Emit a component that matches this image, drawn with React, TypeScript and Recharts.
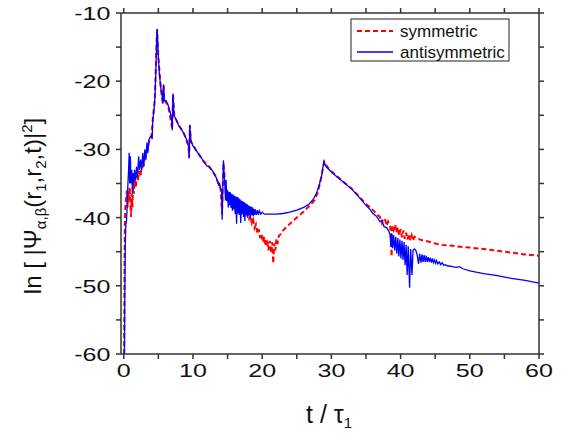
import React from 'react';
import { LineChart, Line, XAxis, YAxis } from 'recharts';

// [t / tau_1, ln|Psi|^2] pairs
const symmetric: [number, number][] = [
  [0.05, -60], [0.08, -52], [0.12, -45], [0.18, -40], [0.25, -38], [0.35, -37], [0.45, -36], [0.55, -38.5],
  [0.65, -36], [0.75, -37.5], [0.85, -35.5], [0.95, -37.8], [1.05, -39.9], [1.15, -36.5], [1.25, -38.5], [1.35, -35],
  [1.45, -36.5], [1.6, -34.5], [1.75, -35.5], [1.9, -33.8], [2.05, -34.5], [2.2, -33.2], [2.4, -34], [2.6, -32.5],
  [2.8, -32.5], [3.0, -31.5], [3.3, -30.5], [3.6, -29], [4.0, -28.2], [4.2, -25.5], [4.5, -22.5], [4.75, -14],
  [4.82, -12.5], [5.0, -16.5], [5.35, -21], [5.65, -23.3], [5.75, -20.6], [5.85, -22.8], [6.4, -23.5], [7.0, -27],
  [7.12, -22], [7.3, -25], [7.9, -26.4], [8.7, -27.7], [9.35, -29.5], [9.45, -31.2], [9.55, -26.5], [9.7, -28.8],
  [10.5, -30.2], [11.5, -31.7], [12.4, -32.6], [13.2, -33.8], [14.0, -35.8], [14.2, -39.5], [14.4, -32], [14.7, -35.5],
  [15.2, -37], [16.0, -37.5], [16.5, -38], [17.0, -38.3], [17.5, -38.8], [17.8, -39.6], [18.1, -40.2], [18.3, -39.6],
  [18.5, -40.8], [18.7, -40.3], [18.9, -41.5], [19.1, -41], [19.3, -42.3], [19.5, -41.7], [19.7, -43], [19.9, -42.4],
  [20.1, -43.6], [20.3, -42.8], [20.5, -44.2], [20.7, -43.2], [20.9, -44.8], [21.1, -43.4], [21.3, -45.2], [21.45, -43.6],
  [21.6, -46.7], [21.75, -43.8], [21.9, -44.8], [22.05, -43.2], [22.2, -43.9], [22.4, -42.7], [22.7, -42.4], [23.0, -41.9],
  [24.0, -40.9], [25.0, -40], [26.0, -39.1], [27.0, -38.1], [27.6, -37.4], [28.0, -36.4], [28.4, -34.8], [28.7, -33.2],
  [28.95, -31.8], [29.5, -32.7], [30.0, -33.2], [31.0, -34.1], [32.0, -35], [33.0, -35.8], [34.0, -36.9], [35.0, -38],
  [35.5, -38.4], [36.0, -38.9], [36.5, -39.4], [37.0, -39.9], [37.3, -40.8], [37.5, -40.1], [37.8, -40.4], [38.0, -41.2],
  [38.2, -40.6], [38.5, -41.3], [38.7, -45.7], [38.8, -41.2], [39.0, -41.8], [39.2, -41], [39.4, -42.2], [39.6, -41.4],
  [39.8, -42.6], [40.0, -41.7], [40.2, -42.9], [40.4, -41.9], [40.6, -43.1], [40.8, -42.2], [41.0, -43.2], [41.2, -42.4],
  [41.4, -43.3], [41.6, -42.6], [41.8, -43.4], [42.0, -42.8], [42.5, -43.1], [43.0, -43.3], [44.0, -43.5], [45.0, -43.8],
  [46.0, -44], [48.0, -44.2], [50.0, -44.4], [52.0, -44.6], [55.0, -45], [58.0, -45.4], [60.0, -45.6],
];

const antisymmetric: [number, number][] = [
  [0.1, -60], [0.15, -52], [0.22, -44], [0.3, -41], [0.4, -40.5], [0.5, -38], [0.6, -35], [0.7, -33],
  [0.78, -30.5], [0.85, -35], [0.95, -31], [1.05, -35], [1.15, -33], [1.25, -36.5], [1.35, -33.5], [1.45, -35],
  [1.55, -33], [1.7, -34.5], [1.85, -32.5], [2.0, -34], [2.15, -31], [2.3, -33], [2.45, -31.5], [2.6, -33],
  [2.75, -30.5], [2.9, -32.5], [3.05, -30], [3.2, -31.5], [3.35, -29], [3.5, -30.5], [3.65, -28.5], [3.8, -28.2],
  [4.0, -28], [4.1, -28.5], [4.2, -25.5], [4.35, -24.5], [4.5, -22.5], [4.62, -19], [4.75, -14], [4.82, -12.3],
  [4.9, -14], [5.0, -16.5], [5.15, -19], [5.35, -21], [5.55, -22.2], [5.65, -23.3], [5.75, -20.5], [5.85, -22.8],
  [6.1, -22.8], [6.4, -23.5], [6.7, -24.5], [6.9, -25.5], [7.0, -27.2], [7.12, -21.8], [7.25, -25], [7.5, -25.5],
  [7.9, -26.4], [8.3, -27], [8.7, -27.7], [9.1, -28.6], [9.35, -29.5], [9.45, -31.3], [9.55, -26.4], [9.7, -28.8],
  [10.0, -29.5], [10.5, -30.2], [11.0, -30.9], [11.5, -31.7], [12.0, -32.4], [12.4, -32.6], [12.8, -33.1], [13.2, -33.8],
  [13.5, -34.5], [13.7, -35.2], [13.85, -35], [14.0, -35.8], [14.15, -36.5], [14.22, -40.3], [14.3, -36], [14.4, -31.6],
  [14.5, -33.5], [14.6, -35], [14.7, -37.5], [14.78, -34.5], [14.9, -37.6], [15.0, -36], [15.1, -38.5], [15.2, -36.2],
  [15.3, -38.2], [15.4, -36.3], [15.5, -38.6], [15.6, -36.5], [15.7, -39], [15.8, -36.6], [15.9, -38.8], [16.0, -36.8],
  [16.1, -39.5], [16.2, -36.9], [16.3, -40.9], [16.4, -37], [16.5, -39.4], [16.6, -37.1], [16.7, -39.6], [16.8, -37.3],
  [16.9, -40.8], [17.0, -37.5], [17.1, -39.5], [17.2, -37.6], [17.3, -39.9], [17.4, -37.7], [17.5, -40.5], [17.6, -37.9],
  [17.7, -39.6], [17.8, -38], [17.9, -40], [18.0, -38.2], [18.1, -39.7], [18.2, -38.3], [18.3, -40.1], [18.4, -38.4],
  [18.5, -39.6], [18.6, -38.5], [18.7, -39.8], [18.8, -38.7], [18.9, -39.6], [19.0, -38.8], [19.15, -39.6], [19.3, -38.9],
  [19.45, -39.6], [19.6, -39], [19.8, -39.5], [20.0, -39.2], [20.3, -39.5], [21.0, -39.5], [22.0, -39.5], [23.0, -39.4],
  [24.0, -39.2], [25.0, -38.9], [26.0, -38.5], [26.8, -38], [27.4, -37.3], [27.9, -36.3], [28.3, -35], [28.6, -33.8],
  [28.8, -32.5], [28.95, -31.8], [29.2, -32.5], [29.5, -32.8], [30.0, -33.3], [31.0, -34.2], [32.0, -35], [33.0, -35.9],
  [34.0, -37], [35.0, -38.2], [35.5, -38.7], [36.0, -39.4], [36.5, -39.8], [37.0, -40.6], [37.3, -40.4], [37.6, -41.3],
  [38.0, -41.5], [38.3, -42], [38.5, -42.5], [38.6, -44.3], [38.7, -42.3], [38.85, -44.5], [39.0, -42.6], [39.15, -44.8],
  [39.3, -42.8], [39.45, -45.3], [39.6, -43], [39.75, -45.7], [39.9, -43.2], [40.05, -46], [40.2, -43.4], [40.35, -46.2],
  [40.5, -43.6], [40.65, -47], [40.8, -44], [40.95, -48.4], [41.1, -44.2], [41.3, -50.3], [41.45, -44.6], [41.65, -48.4],
  [41.8, -44.8], [42.0, -44.6], [42.2, -44.8], [42.4, -45.5], [42.6, -46.8], [42.75, -45.3], [42.95, -46.6], [43.1, -45.4],
  [43.25, -46.5], [43.4, -45.5], [43.55, -46.5], [43.7, -45.6], [43.85, -46.5], [44.0, -45.8], [44.15, -46.5], [44.3, -45.9],
  [44.45, -46.6], [44.6, -46], [44.75, -46.6], [44.9, -46.2], [45.05, -46.7], [45.2, -46.3], [45.4, -46.8], [45.6, -46.5],
  [45.8, -46.9], [46.0, -46.6], [46.25, -47], [46.5, -46.9], [46.8, -47.1], [47.0, -47.1], [47.5, -47.2], [48.0, -47.3],
  [48.5, -47.2], [49.0, -47.5], [50.0, -47.8], [52.0, -48.2], [54.0, -48.5], [56.0, -48.9], [58.0, -49.2], [60.0, -49.6],
];

const xTicks = [0, 5, 10, 15, 20, 25, 30, 35, 40, 45, 50, 55, 60];
const yTicks = [-60, -55, -50, -45, -40, -35, -30, -25, -20, -15, -10];

const symData = symmetric.map(([t, v]) => ({ t, v }));
const antiData = antisymmetric.map(([t, v]) => ({ t, v }));

if (typeof document !== 'undefined') document.body.style.margin = '0';

const font = '"Liberation Sans", Arial, sans-serif';
const axisColor = '#333';

const XTick = (props: any) => {
  const { x, y, payload } = props;
  if (payload.value % 10 !== 0) return <g />;
  return (
    <text transform={`translate(${x},${y + 15.5}) scale(1.32,1)`} textAnchor="middle" fontSize={19} fontFamily={font} fill="#111">
      {payload.value}
    </text>
  );
};

const YTick = (props: any) => {
  const { x, y, payload } = props;
  if (payload.value % 10 !== 0) return <g />;
  return (
    <text transform={`translate(${x - 3.5},${y + 7}) scale(1.32,1)`} textAnchor="end" fontSize={19} fontFamily={font} fill="#111">
      {payload.value}
    </text>
  );
};

const NoTick = () => <g />;

export default function App() {
  return (
    <div style={{ position: 'relative', width: 564, height: 433, background: '#fff' }}>
      <LineChart width={564} height={433} data={antiData} margin={{ top: 12, right: 24, bottom: 0, left: 0 }}>
        <XAxis
          dataKey="t"
          type="number"
          domain={[-0.4, 60]}
          ticks={xTicks}
          allowDataOverflow
          height={79}
          tickSize={5}
          tick={<XTick />}
          stroke={axisColor}
          strokeWidth={1.5}
        />
        <XAxis
          xAxisId="top"
          orientation="top"
          dataKey="t"
          type="number"
          domain={[-0.4, 60]}
          ticks={xTicks}
          allowDataOverflow
          height={1}
          tickSize={5}
          tick={<NoTick />}
          stroke={axisColor}
          strokeWidth={1.5}
        />
        <YAxis
          type="number"
          domain={[-60, -10]}
          ticks={yTicks}
          allowDataOverflow
          width={121}
          tickSize={5}
          tick={<YTick />}
          stroke={axisColor}
          strokeWidth={1.5}
        />
        <YAxis
          yAxisId="right"
          orientation="right"
          type="number"
          domain={[-60, -10]}
          ticks={yTicks}
          allowDataOverflow
          width={1}
          tickSize={5}
          tick={<NoTick />}
          stroke={axisColor}
          strokeWidth={1.5}
        />
        <Line
          data={symData}
          dataKey="v"
          type="linear"
          stroke="#ff0000"
          strokeWidth={2}
          strokeDasharray="5 3"
          dot={false}
          activeDot={false}
          isAnimationActive={false}
        />
        <Line
          data={antiData}
          dataKey="v"
          type="linear"
          stroke="#0000ff"
          strokeWidth={1.3}
          dot={false}
          activeDot={false}
          isAnimationActive={false}
        />
      </LineChart>
      <svg width={564} height={433} style={{ position: 'absolute', left: 0, top: 0, pointerEvents: 'none' }}>
        <text transform="translate(41,206) rotate(-90)" textAnchor="middle" fontSize={24} fontFamily={font} fill="#111">
          ln [ |Ψ<tspan fontSize={15} dy={5}>α,β</tspan>
          <tspan dy={-5}>(r</tspan>
          <tspan fontSize={15} dy={5}>1</tspan>
          <tspan dy={-5}>,r</tspan>
          <tspan fontSize={15} dy={5}>2</tspan>
          <tspan dy={-5}>,t)|</tspan>
          <tspan fontSize={15} dy={-9}>2</tspan>
          <tspan dy={9}>]</tspan>
        </text>
        <text x={329} y={423} textAnchor="middle" fontSize={25} fontFamily={font} fill="#111">
          t / τ<tspan fontSize={15} dy={5}>1</tspan>
        </text>
        <rect x={351} y={19} width={158} height={42} fill="#fff" stroke="#222" strokeWidth={1} />
        <line x1={357} y1={31} x2={393} y2={31} stroke="#ff0000" strokeWidth={2} strokeDasharray="5 3" />
        <text x={400} y={36.5} fontSize={17} fontFamily={font} fill="#111">symmetric</text>
        <line x1={357} y1={52} x2={393} y2={52} stroke="#4040ff" strokeWidth={2} />
        <text x={400} y={57.5} fontSize={17} fontFamily={font} fill="#111">antisymmetric</text>
      </svg>
    </div>
  );
}
